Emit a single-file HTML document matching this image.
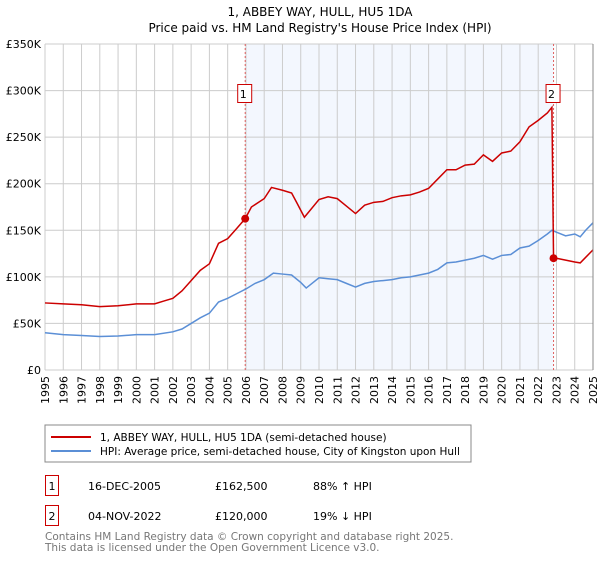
<!DOCTYPE html>
<html><head><meta charset="utf-8">
<style>
body{margin:0;background:#fff;font-family:"DejaVu Sans","Liberation Sans",sans-serif;}
svg text{font-family:"DejaVu Sans","Liberation Sans",sans-serif;}
</style></head>
<body>
<svg id="chart" width="600" height="560" xmlns="http://www.w3.org/2000/svg">
<text x="320" y="16" font-size="12" text-anchor="middle">1, ABBEY WAY, HULL, HU5 1DA</text>
<text x="320" y="32" font-size="12" text-anchor="middle">Price paid vs. HM Land Registry's House Price Index (HPI)</text>
<g id="plot"></g>
<rect x="45" y="425" width="426" height="37" fill="#fff" stroke="#888"/>
<line x1="51" y1="437" x2="91" y2="437" stroke="#cc0000" stroke-width="2"/>
<text x="100" y="441" font-size="10.5">1, ABBEY WAY, HULL, HU5 1DA (semi-detached house)</text>
<line x1="51" y1="451" x2="91" y2="451" stroke="#5b8fd6" stroke-width="2"/>
<text x="100" y="455" font-size="10.5">HPI: Average price, semi-detached house, City of Kingston upon Hull</text>
<g font-size="11">
<rect x="45.5" y="475.5" width="13" height="20" fill="#fff" stroke="#cc0000"/>
<text x="52" y="490" text-anchor="middle">1</text>
<text x="88" y="490">16-DEC-2005</text>
<text x="215" y="490">£162,500</text>
<text x="313" y="490">88% ↑ HPI</text>
<rect x="45.5" y="505.5" width="13" height="20" fill="#fff" stroke="#cc0000"/>
<text x="52" y="520" text-anchor="middle">2</text>
<text x="88" y="520">04-NOV-2022</text>
<text x="215" y="520">£120,000</text>
<text x="313" y="520">19% ↓ HPI</text>
</g>
<text x="45" y="540" font-size="10.5" fill="#777">Contains HM Land Registry data © Crown copyright and database right 2025.</text>
<text x="45" y="551" font-size="10.5" fill="#777">This data is licensed under the Open Government Licence v3.0.</text>
</svg>
<script>
const hpiYears=[1995,1996,1997,1998,1999,2000,2001,2002,2002.5,2003,2003.5,2004,2004.5,2005,2005.5,2006,2006.5,2007,2007.5,2008,2008.5,2009,2009.3,2010,2010.5,2011,2011.5,2012,2012.5,2013,2013.5,2014,2014.5,2015,2015.5,2016,2016.5,2017,2017.5,2018,2018.5,2019,2019.5,2020,2020.5,2021,2021.5,2022,2022.5,2022.75,2023,2023.5,2024,2024.3,2024.6,2025];
const hpiValues=[40,38,37,36,36.5,38,38,41,44,50,56,61,73,77,82,87,93,97,104,103,102,94,88,99,98,97,93,89,93,95,96,97,99,100,102,104,108,115,116,118,120,123,119,123,124,131,133,139,146,150,148,144,146,143,150,158];
const redYears=[1995,1996,1997,1998,1999,2000,2001,2001.5,2002,2002.5,2003,2003.5,2004,2004.5,2005,2005.5,2005.96,2006.3,2007,2007.4,2008,2008.5,2008.8,2009.2,2010,2010.5,2011,2011.5,2012,2012.5,2013,2013.5,2014,2014.5,2015,2015.5,2016,2016.5,2017,2017.5,2018,2018.5,2019,2019.5,2020,2020.5,2021,2021.5,2022,2022.5,2022.75,2022.84,2023,2023.5,2024,2024.3,2024.6,2025];
const redValues=[72,71,70,68,69,71,71,74,77,85,96,107,114,136,141,152,162.5,175,184,196,193,190,179,164,183,186,184,176,168,177,180,181,185,187,188,191,195,205,215,215,220,221,231,224,233,235,245,261,268,276,282,120,120,118,116,115,121,129];
const saleYears=[2005.96,2022.84];
const saleValues=[162.5,120];
const yTicks=[0,50,100,150,200,250,300,350];
const yTickLabels=["£0","£50K","£100K","£150K","£200K","£250K","£300K","£350K"];
const xTicks=[1995,1996,1997,1998,1999,2000,2001,2002,2003,2004,2005,2006,2007,2008,2009,2010,2011,2012,2013,2014,2015,2016,2017,2018,2019,2020,2021,2022,2023,2024,2025];

const L=45,R=593,T=44,B=370;
const xs=y=>L+(y-1995)/(2025-1995)*(R-L);
const ys=v=>B-v/350*(B-T);
const NS="http://www.w3.org/2000/svg";
const g=document.getElementById('plot');
function mk(tag,attrs){const e=document.createElementNS(NS,tag);for(const k in attrs)e.setAttribute(k,attrs[k]);g.appendChild(e);return e;}

let shade=mk('rect',{x:xs(saleYears[0]),y:T,width:xs(saleYears[1])-xs(saleYears[0]),height:B-T,fill:'#eef3fd',opacity:0.7});


xTicks.forEach(t=>{
  const l=mk('line',{x1:xs(t),x2:xs(t),y1:T,y2:B,stroke:'#ccc'});
  
  
  const tx=mk('text',{x:0,y:0,'font-size':11,'text-anchor':'end',transform:`translate(${xs(t)+4},${B+6}) rotate(-90)`});
  tx.textContent=t;
  
  
});
yTicks.forEach((t,i)=>{
  const l=mk('line',{x1:L,x2:R,y1:ys(t),y2:ys(t),stroke:'#ccc'});
  
  
  const tx=mk('text',{x:L-4,y:ys(t)+4,'font-size':11,'text-anchor':'end'});
  tx.textContent=yTickLabels[i];
  
  
});
saleYears.forEach(s=>{
  const l=mk('line',{x1:xs(s),x2:xs(s),y1:T,y2:B,stroke:'#e06060','stroke-dasharray':'2,2'});
  
  
});
const hp=mk('polyline',{points:hpiYears.map((y,i)=>xs(y)+','+ys(hpiValues[i])).join(' '),fill:'none',stroke:'#5b8fd6','stroke-width':1.5});


const rp=mk('polyline',{points:redYears.map((y,i)=>xs(y)+','+ys(redValues[i])).join(' '),fill:'none',stroke:'#cc0000','stroke-width':1.5});


saleYears.forEach((s,i)=>{
  const c=mk('circle',{cx:xs(s),cy:ys(saleValues[i]),r:4,fill:'#cc0000'});
  
  
  const bx=xs(s)-7;
  const r=mk('rect',{x:bx-0.5,y:84.5,width:14,height:18,fill:'#fff',stroke:'#cc0000'});
  
  
  const tx=mk('text',{x:xs(s)-2,y:98,'font-size':11,'text-anchor':'middle'});
  tx.textContent=String(i+1);
  
  
});
const rl=mk('line',{x1:R,x2:R,y1:T,y2:B,stroke:'#888'});


</script>
</body></html>
